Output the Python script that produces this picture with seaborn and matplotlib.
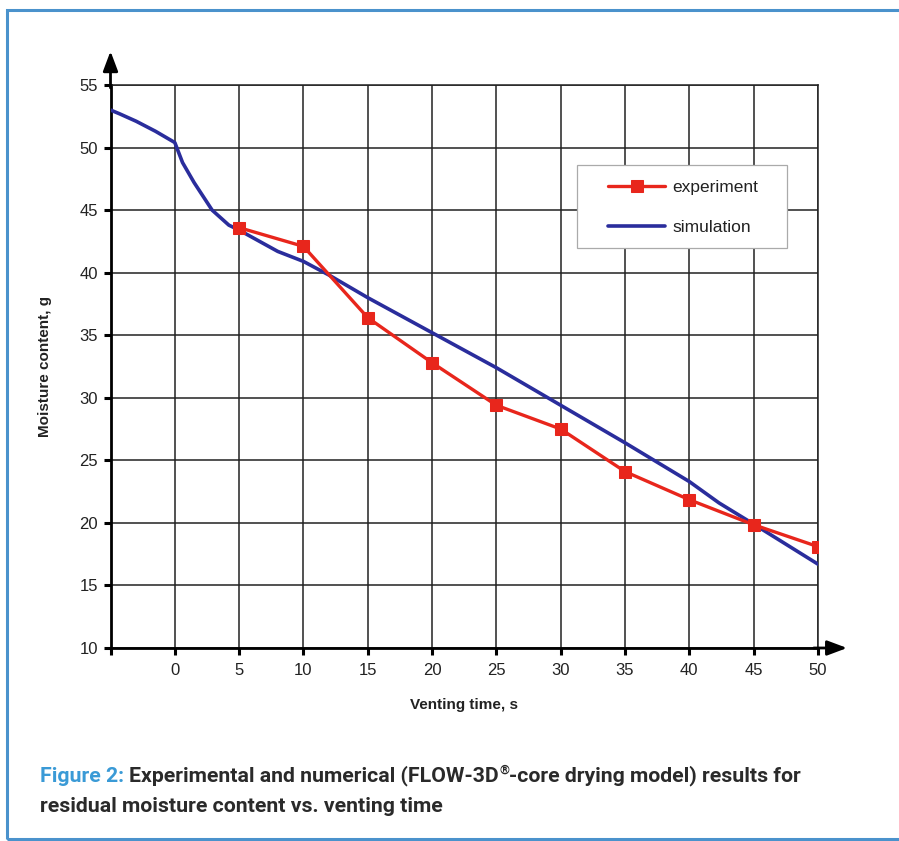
import matplotlib
matplotlib.use("Agg")
import matplotlib.pyplot as plt
import seaborn as sns
import pandas as pd
from matplotlib.patches import Rectangle

# ---- data ----
exp_x = [5, 10, 15, 20, 25, 30, 35, 40, 45, 50]
exp_y = [43.6, 42.1, 36.4, 32.8, 29.4, 27.5, 24.1, 21.85, 19.85, 18.1]

sim_x = [-5, -4.3, -3.0, -1.5, 0, 0.6, 1.5, 2.9, 4.2, 5, 8, 10, 12, 15, 20, 25, 30, 35, 40, 42.3, 45, 50]
sim_y = [53.0, 52.7, 52.1, 51.3, 50.4, 48.8, 47.2, 45.0, 43.8, 43.4, 41.7, 40.9, 39.8, 38.0, 35.2, 32.4, 29.4, 26.4, 23.3, 21.6, 19.9, 16.7]

x_ticks = [-5, 0, 5, 10, 15, 20, 25, 30, 35, 40, 45, 50]
x_tick_labels = ["", "0", "5", "10", "15", "20", "25", "30", "35", "40", "45", "50"]
y_ticks = [10, 15, 20, 25, 30, 35, 40, 45, 50, 55]

sns.set_style("white")
plt.rcParams["font.family"] = ["Liberation Sans", "DejaVu Sans"]

W, H = 899, 841
fig = plt.figure(figsize=(W / 100, H / 100), dpi=100)
fig.patch.set_facecolor("white")

left_px, right_px, top_px, bottom_px = 110.5, 818, 85, 648
ax = fig.add_axes([left_px / W, 1 - bottom_px / H, (right_px - left_px) / W, (bottom_px - top_px) / H])

df_sim = pd.DataFrame({"x": sim_x, "y": sim_y})
df_exp = pd.DataFrame({"x": exp_x, "y": exp_y})

red = "#e8261c"
blue = "#2a2d9c"

sns.lineplot(data=df_sim, x="x", y="y", ax=ax, color=blue, lw=2.6, label="simulation", zorder=3)
sns.lineplot(data=df_exp, x="x", y="y", ax=ax, color=red, lw=2.4, marker="s", markersize=9,
             markeredgecolor=red, label="experiment", zorder=4)

ax.set_xlim(-5, 50)
ax.set_ylim(10, 55)
ax.set_xticks(x_ticks)
ax.set_xticklabels(x_tick_labels)
ax.set_yticks(y_ticks)
ax.grid(True, color="#222222", lw=1.1)
ax.set_axisbelow(True)

for s in ["top", "right"]:
    ax.spines[s].set_color("#222222")
    ax.spines[s].set_linewidth(1.1)
for s in ["left", "bottom"]:
    ax.spines[s].set_color("black")
    ax.spines[s].set_linewidth(2.0)

ax.tick_params(axis="both", which="major", direction="out", length=5, width=2.2,
               color="black", labelsize=12, labelcolor="#222222", pad=4,
               left=True, bottom=True)
ax.tick_params(axis="x", pad=6)

ax.set_xlabel("Venting time, s", fontsize=11, fontweight="bold", color="#222222", labelpad=14)
ax.set_ylabel("Moisture content, g", fontsize=11, fontweight="bold", color="#222222", labelpad=20)

ax.annotate("", xy=(0, 1.065), xycoords="axes fraction", xytext=(0, 0.99),
            arrowprops=dict(arrowstyle="-|>,head_length=1.2,head_width=0.45", color="black", lw=2.0),
            annotation_clip=False)
ax.annotate("", xy=(1.045, 0), xycoords="axes fraction", xytext=(0.99, 0),
            arrowprops=dict(arrowstyle="-|>,head_length=1.2,head_width=0.45", color="black", lw=2.0),
            annotation_clip=False)

# legend box drawn manually, legend content placed inside
ax.add_patch(Rectangle((577 / W, 1 - 248 / H), (787 - 577) / W, (248 - 165) / H,
                       transform=fig.transFigure, facecolor="white", edgecolor="#aaaaaa",
                       lw=0.9, zorder=4.5))
handles, labels = ax.get_legend_handles_labels()
order = [labels.index("experiment"), labels.index("simulation")]
leg = ax.legend([handles[i] for i in order], [labels[i] for i in order],
                loc="upper left", bbox_to_anchor=(608 / W, 1 - 179.5 / H),
                bbox_transform=fig.transFigure,
                frameon=False, fontsize=12.5, handlelength=3.3, handletextpad=0.42,
                borderpad=0, labelspacing=1.48, borderaxespad=0, markerscale=1.0)
leg.set_zorder(5)
for t in leg.get_texts():
    t.set_color("#222222")

fig.patches.append(Rectangle((7 / W, 1 - 839 / H), (W + 10 - 7) / W, (839 - 10) / H,
                             transform=fig.transFigure, fill=False, edgecolor="#4a92cc", lw=2.2))

# caption built from pieces
cap_font = ["Roboto", "DejaVu Sans"]
fs = 15.3
renderer = fig.canvas.get_renderer()
pieces = [("Figure 2: ", "#3a9ad6", fs, 0),
          ("Experimental and numerical (FLOW-3D", "#2a2a2a", fs, 0),
          ("\u00ae", "#2a2a2a", fs * 0.6, 6),
          ("-core drying model) results for", "#2a2a2a", fs, 0)]
xcur = 40.0
y1 = H - 776
for txt, col, size, dy in pieces:
    t = fig.text(xcur / W, (y1 + dy) / H, txt, color=col, fontsize=size, fontweight="bold",
                 family=cap_font, va="center", ha="left")
    bb = t.get_window_extent(renderer=renderer)
    xcur = bb.x1
fig.text(40 / W, 1 - 806 / H, "residual moisture content vs. venting time",
         color="#2a2a2a", fontsize=fs, fontweight="bold", family=cap_font, va="center", ha="left")

fig.savefig("out.png", dpi=100, facecolor="white")
